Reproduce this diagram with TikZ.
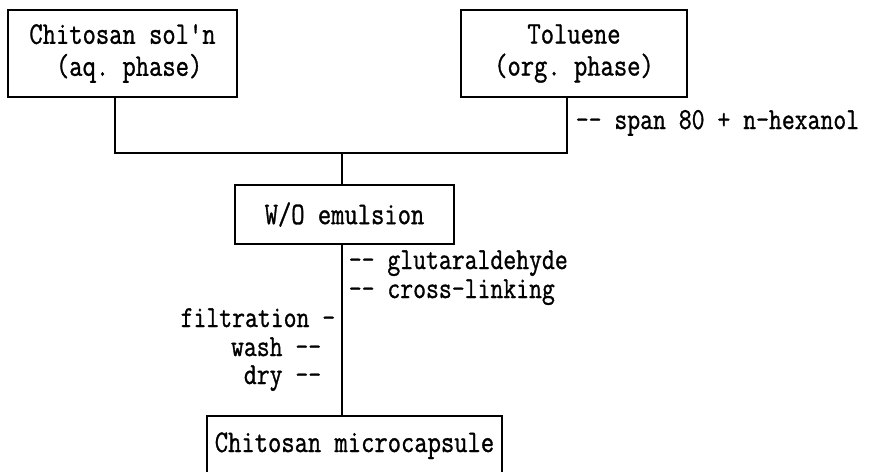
\documentclass[tikz,border=0pt]{standalone}
\usepackage{fontspec}
\setmonofont{Latin Modern Mono}[FakeStretch=0.82,FakeBold=1]
\begin{document}
\begin{tikzpicture}[x=1pt,y=-1pt,line width=1.6pt,
  every node/.style={font=\ttfamily\fontsize{30.5}{31.5}\selectfont,inner sep=0pt},
  box/.style={draw,align=center,font=\ttfamily\fontsize{31.5}{32}\selectfont},
  lbl/.style={anchor=base west},
  lblr/.style={anchor=base east}]
\useasboundingbox (0,0) rectangle (869,471);
\clip (0,0) rectangle (869,471);
% boxes
\node[box,minimum width=229,minimum height=87] (aq) at (122.5,53.5) {Chitosan sol'n\\\ (aq. phase)};
\node[box,minimum width=226,minimum height=87] (tol) at (574,53.5) {Toluene\\(org. phase)};
\node[box,minimum width=219,minimum height=59] (wo) at (344.5,214.5) {W/O emulsion};
\node[box,minimum width=295,minimum height=67,text height=19pt,text depth=14pt] (cap) at (354.5,449.5) {Chitosan microcapsule};
% labels
\node[lbl] (span) at (575,129) {-- span 80 + n-hexanol};
\node[lbl] (glut) at (348,269) {-- glutaraldehyde};
\node[lbl] (cross) at (348,298) {-- cross-linking};
\node[lblr] (filt) at (336,327) {filtration -};
\node[lblr] (wash) at (322,356) {wash --};
\node[lblr] (dry) at (322,384) {dry --};
% connectors
\coordinate (j) at (342,153);
\draw ([xshift=-7.5pt]aq.south) |- (j);
\draw ([xshift=-7pt]tol.south) |- (j);
\draw (j) -- (j |- wo.north);
\draw (j |- wo.south) -- (j |- cap.north);
\end{tikzpicture}
\end{document}
